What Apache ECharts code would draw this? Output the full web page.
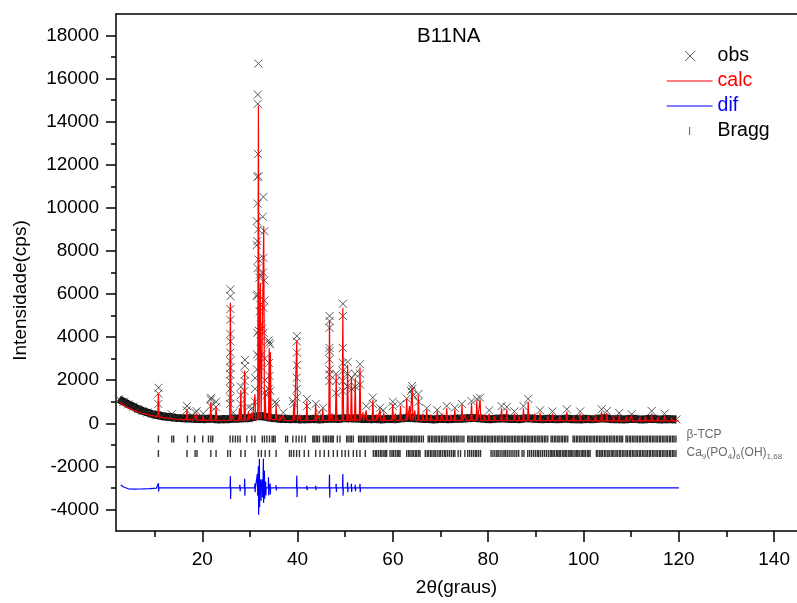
<!DOCTYPE html>
<html>
<head>
<meta charset="utf-8">
<script src="https://cdn.jsdelivr.net/npm/echarts@6/dist/echarts.min.js"></script>
<style>
  html, body { margin: 0; padding: 0; background: #fff; }
  #main { width: 797px; height: 603px; }
</style>
</head>
<body>
<div id="main"></div>
<script>
// axis ticks
const xTicks = [20, 40, 60, 80, 100, 120, 140];
const xMinorTicks = [10, 30, 50, 70, 90, 110, 130];
const yTicks = [-4000, -2000, 0, 2000, 4000, 6000, 8000, 10000, 12000, 14000, 16000, 18000];
const yMinorTicks = [-3000, -1000, 1000, 3000, 5000, 7000, 9000, 11000, 13000, 15000, 17000];

// observed background, one point per degree starting at 2.5
const obsBgStart = 2.5;
const obsBg = [
  1120, 1000, 880, 770, 660, 570, 500, 430, 380, 340,
  300, 280, 250, 240, 220, 230, 200, 210, 190, 220,
  200, 180, 200, 190, 220, 210, 240, 230, 270, 330,
  340, 290, 250, 230, 200, 210, 190, 210, 180, 200,
  190, 210, 180, 200, 210, 220, 200, 230, 240, 220,
  230, 200, 210, 190, 210, 180, 200, 210, 190, 220,
  240, 260, 230, 220, 200, 210, 180, 200, 210, 190,
  200, 220, 210, 230, 250, 240, 220, 200, 190, 210,
  220, 230, 200, 210, 190, 220, 240, 210, 200, 190,
  210, 200, 190, 200, 220, 190, 200, 180, 210, 190,
  200, 220, 230, 200, 190, 200, 180, 200, 210, 190,
  180, 200, 210, 190, 180, 200, 190, 180
];

// observed points on the peaks [2theta, counts]
const obsPeaks = [
  [10.78, 900], [10.8, 1380], [10.82, 1650], [13.6, 420], [16.75, 600], [16.8, 800],
  [18.5, 500], [18.8, 560], [20.2, 450], [21.75, 800], [21.8, 1100], [21.85, 1180],
  [22.85, 750], [22.9, 1000],
  [25.86, 900], [25.86, 1190], [25.87, 1590], [25.87, 1960], [25.88, 2270], [25.88, 2580],
  [25.89, 2890], [25.89, 3280], [25.9, 3800], [25.9, 4150], [25.91, 4800], [25.91, 5300],
  [25.92, 5900], [25.92, 6220], [26.5, 500],
  [28.05, 900], [28.1, 1300], [28.12, 1700],
  [28.88, 1500], [28.9, 1960], [28.92, 2270], [28.93, 2660], [28.95, 2940],
  [29.7, 750], [30.4, 700], [31.05, 1000], [31.08, 1600], [31.1, 2100],
  [31.44, 9385], [31.44, 8270], [31.44, 5900], [31.5, 3200], [31.5, 2500], [31.55, 4200],
  [31.57, 11430], [31.57, 8460], [31.57, 5980], [31.6, 7200], [31.62, 10200], [31.65, 15260],
  [31.65, 14830], [31.7, 12500], [31.75, 9000], [31.78, 16700], [31.78, 11470], [31.8, 7600],
  [31.85, 4300], [31.9, 3100], [31.99, 6760], [32.05, 5200], [32.14, 6910], [32.2, 5500],
  [32.25, 3800], [32.35, 4590], [32.4, 2600], [32.55, 3200], [32.6, 4400], [32.7, 9590],
  [32.75, 7000], [32.83, 10510], [32.83, 7680], [32.83, 5360], [32.9, 4200], [33.04, 8920],
  [33.04, 6630], [33.04, 5700], [33.1, 3000], [33.2, 2000], [33.35, 1500], [33.5, 1300],
  [33.88, 3850], [34.03, 3740], [34.24, 3660], [34.0, 2800], [34.1, 2200], [33.95, 1600],
  [34.3, 1500], [35.3, 1000], [35.5, 900], [37.0, 500], [39.0, 1030], [39.2, 900],
  [39.8, 1200], [39.82, 2115], [39.84, 3280], [39.85, 4050], [39.83, 3800], [39.86, 2700],
  [39.88, 1600], [41.95, 1130], [42.0, 800], [43.8, 900], [44.5, 500], [45.35, 720],
  [46.66, 1960], [46.67, 2270], [46.68, 2500], [46.69, 2970], [46.7, 3350], [46.7, 3500],
  [46.71, 4430], [46.72, 4750], [46.72, 4980],
  [48.05, 1400], [48.08, 2300], [48.1, 1960],
  [49.46, 1500], [49.47, 1960], [49.48, 2430], [49.49, 2810], [49.5, 3500], [49.51, 4980],
  [49.52, 5550],
  [50.48, 1700], [50.5, 2850], [50.52, 2300], [51.37, 2100], [51.4, 1600], [52.07, 2300],
  [52.1, 1700], [53.1, 2300], [53.11, 2740], [53.12, 1800], [54.4, 800], [55.78, 1200],
  [55.8, 900], [57.3, 720], [58.0, 600], [59.97, 1000], [60.0, 800], [61.6, 900],
  [62.9, 1150], [63.8, 1500], [64.05, 1730], [64.1, 1600], [64.3, 1300], [65.35, 1360],
  [65.4, 1000], [67.1, 700], [69.3, 620], [71.3, 800], [73.0, 720], [74.5, 900],
  [76.5, 1030], [77.6, 1130], [78.3, 1190], [80.2, 600], [82.8, 800], [83.9, 760],
  [85.5, 550], [87.4, 800], [88.4, 1130], [90.9, 600], [93.5, 550], [96.5, 650],
  [99.3, 550], [103.8, 650], [104.9, 570], [107.5, 480], [110.1, 420], [114.3, 570],
  [117.0, 450]
];

// calculated profile: background [2theta, counts] and peaks [2theta, top, base]
const calcBase = [
  [2.6, 990], [3, 900], [4, 780], [5, 670], [6, 570], [7, 490], [8, 430], [9, 380],
  [10, 330], [11, 290], [12, 250], [14, 200], [16, 170], [18, 150], [20, 140], [25, 130],
  [29.3, 150], [30.7, 190], [32.55, 220], [33.6, 190], [36, 140], [40.2, 130], [50, 140],
  [60.2, 140], [70, 130], [80, 130], [90, 120], [100, 120], [109.6, 115], [120, 110]
];
const calcPeaks = [
  [10.8, 1400, 300], [13.6, 300, 230], [16.8, 650, 170], [18.5, 350, 150], [18.8, 450, 150],
  [20.2, 330, 140], [21.8, 1000, 140], [22.9, 800, 135], [25.9, 5600, 130], [26.5, 350, 130],
  [27.8, 700, 140], [28.1, 1550, 140], [28.9, 2450, 145], [29.7, 550, 150], [30.4, 500, 170],
  [31.05, 1350, 190], [31.78, 14750, 200], [32.2, 6500, 210], [32.9, 9150, 210], [33.2, 1500, 200],
  [34.05, 3500, 180], [34.3, 3300, 180], [35.5, 850, 160], [36.3, 350, 150], [37.0, 380, 140],
  [39.2, 900, 130], [39.84, 3850, 130], [40.5, 400, 130], [41.95, 1050, 130], [43.8, 880, 130],
  [44.5, 350, 130], [45.3, 650, 135], [46.7, 4800, 135], [47.2, 450, 135], [48.1, 2250, 135],
  [49.5, 5350, 135], [50.5, 2700, 140], [51.3, 2150, 140], [52.1, 2100, 140], [53.1, 2600, 140],
  [53.7, 500, 140], [54.4, 600, 140], [55.8, 1100, 140], [56.6, 400, 140], [57.3, 650, 140],
  [58.1, 500, 140], [59.97, 900, 140], [60.5, 450, 140], [61.6, 800, 140], [62.9, 1150, 140],
  [63.5, 800, 140], [64.05, 1650, 140], [64.6, 600, 140], [65.35, 1300, 140], [66.3, 450, 140],
  [67.1, 650, 140], [68.0, 400, 140], [69.3, 570, 135], [70.3, 450, 135], [71.3, 700, 135],
  [72.2, 400, 135], [73.0, 650, 135], [74.5, 850, 135], [75.2, 400, 135], [76.5, 950, 135],
  [77.6, 1050, 130], [78.3, 1100, 130], [79.2, 400, 130], [80.2, 450, 130], [81.3, 350, 130],
  [82.8, 700, 130], [83.9, 650, 130], [85.5, 450, 130], [86.5, 350, 125], [87.4, 700, 125],
  [88.4, 1000, 125], [89.8, 450, 125], [90.9, 500, 125], [92.5, 350, 120], [93.5, 450, 120],
  [95.0, 350, 120], [96.5, 550, 120], [97.9, 350, 120], [99.3, 450, 120], [101.0, 350, 120],
  [102.5, 400, 115], [103.8, 550, 115], [104.9, 480, 115], [106.3, 350, 115], [107.5, 400, 115],
  [109.0, 300, 115], [110.1, 380, 115], [111.8, 300, 110], [113.0, 320, 110], [114.3, 450, 110],
  [115.6, 300, 110], [117.0, 350, 110], [118.5, 280, 110]
];

// difference curve: baseline [2theta, value] and spikes [2theta, high, low]
const difBaseLevel = -3000;
const difBase = [
  [2.9, -2870], [3.5, -2960], [4.5, -3040], [5.5, -3060], [7, -3050], [9, -3030],
  [10.4, -3010], [14, -3000], [120, -3000]
];
const difSpikes = [
  [10.8, -2780, -3170], [13.6, -2950, -3040], [16.8, -2920, -3080], [18.8, -2950, -3050],
  [21.8, -2920, -3080], [22.9, -2930, -3070], [25.9, -2460, -3510], [27.9, -2850, -3150],
  [28.9, -2580, -3360], [29.7, -2950, -3050], [30.4, -2940, -3060], [31.05, -2800, -3200],
  [31.57, -2350, -3350], [31.78, -2000, -4240], [31.99, -1650, -3900], [32.3, -2600, -3600],
  [32.63, -2600, -3450], [32.83, -1650, -3700], [33.04, -2200, -3500], [33.3, -2700, -3350],
  [33.9, -2500, -3350], [34.24, -2800, -3300], [35.5, -2880, -3120], [39.2, -2920, -3080],
  [39.84, -2430, -3430], [41.95, -2900, -3100], [43.8, -2900, -3100], [45.3, -2940, -3060],
  [46.7, -2380, -3460], [48.1, -2810, -3190], [49.5, -2350, -3360], [50.5, -2740, -3200],
  [51.3, -2810, -3190], [52.1, -2850, -3150], [53.1, -2810, -3200], [55.8, -2920, -3080],
  [57.3, -2950, -3050], [59.97, -2940, -3060], [61.6, -2950, -3050], [62.9, -2940, -3060],
  [64.05, -2920, -3080], [65.35, -2940, -3060], [67.1, -2960, -3040], [69.3, -2960, -3040],
  [71.3, -2950, -3050], [73.0, -2960, -3040], [74.5, -2950, -3050], [76.5, -2950, -3060],
  [77.6, -2940, -3060], [78.3, -2950, -3050], [80.2, -2970, -3030], [82.8, -2960, -3040],
  [83.9, -2960, -3040], [85.5, -2970, -3030], [87.4, -2960, -3040], [88.4, -2950, -3060],
  [90.9, -2970, -3030], [93.5, -2970, -3030], [96.5, -2960, -3040], [99.3, -2970, -3030],
  [103.8, -2960, -3040], [104.9, -2970, -3030], [107.5, -2970, -3030], [110.1, -2970, -3030],
  [114.3, -2960, -3040], [117.0, -2970, -3030], [119.8, -2950, -3000]
];

// Bragg reflection positions
const braggRowTCP = -730;
const braggRowHAp = -1400;
const braggTCP = [
  10.8, 13.6, 14.0, 16.9, 18.4, 20.1, 21.3, 21.8, 22.2, 25.85, 26.4, 26.95, 27.45, 27.95,
  29.35, 30.4, 31.05, 32.6, 33.05, 33.55, 34.1, 34.65, 34.95, 35.3, 37.5, 37.9, 39.0, 39.7,
  40.3, 40.9, 41.6, 43.2, 43.5, 43.9, 44.2, 44.6, 45.4, 45.8, 46.1, 46.5, 46.9, 47.2, 47.5,
  48.35, 48.9, 50.3, 50.6, 51.0, 51.3, 51.7, 52.8, 53.1, 53.4, 53.8, 54.1, 54.5, 54.8, 55.2,
  55.6, 55.9, 56.3, 56.6, 57.0, 57.4, 57.7, 58.0, 58.4, 58.7, 59.4, 59.7, 60.1, 60.4, 60.8,
  61.2, 61.5, 61.8, 62.2, 62.5, 62.9, 63.2, 63.6, 63.9, 64.2, 64.6, 64.9, 65.3, 65.6, 66.0,
  66.4, 67.4, 67.7, 68.1, 68.4, 68.8, 69.1, 69.5, 69.8, 70.2, 70.5, 70.9, 71.2, 71.6, 72.0,
  72.3, 72.7, 73.0, 73.4, 73.7, 74.1, 74.5, 74.9, 75.7, 76.0, 76.4, 76.7, 77.1, 77.4, 77.8,
  78.1, 78.5, 78.8, 79.2, 79.5, 79.9, 80.2, 80.6, 80.9, 81.3, 81.6, 82.0, 82.3, 82.7, 83.0,
  83.4, 83.7, 84.1, 84.4, 84.8, 85.1, 85.5, 85.8, 86.2, 86.5, 86.9, 87.2, 87.6, 87.9, 88.3,
  88.6, 89.0, 89.3, 89.7, 90.0, 90.4, 90.7, 91.1, 91.4, 91.8, 92.1, 92.5, 93.2, 93.5, 93.9,
  94.2, 94.6, 94.9, 95.3, 95.6, 96.0, 96.3, 96.7, 97.8, 98.1, 98.5, 98.8, 99.2, 99.5, 99.9,
  100.2, 100.6, 100.9, 101.3, 101.6, 102.0, 102.3, 102.7, 103.0, 103.4, 103.7, 104.1, 104.4,
  104.8, 105.1, 105.5, 105.8, 106.2, 106.5, 106.9, 107.2, 107.6, 107.9, 108.2, 108.9, 109.2,
  109.6, 109.9, 110.3, 110.6, 111.0, 111.3, 111.7, 112.0, 112.4, 112.7, 113.1, 113.4, 113.8,
  114.1, 114.5, 114.8, 115.2, 115.5, 115.9, 116.2, 116.6, 116.9, 117.3, 117.6, 118.0, 118.3,
  118.7, 119.0, 119.4
];
const braggHAp = [
  10.8, 16.8, 18.5, 18.9, 21.8, 22.9, 25.35, 25.9, 28.1, 29.0, 31.78, 32.4, 33.2, 34.1, 35.5,
  38.3, 38.7, 39.2, 39.8, 40.4, 41.4, 42.3, 43.8, 44.7, 45.6, 46.5, 47.5, 48.35, 49.3, 50.0,
  50.7, 51.7, 52.4, 53.1, 54.2, 55.9, 56.3, 56.6, 57.0, 57.4, 57.7, 58.1, 58.4, 58.7, 59.4,
  59.8, 60.1, 60.5, 60.9, 61.2, 61.5, 62.9, 63.3, 63.6, 64.0, 64.3, 64.7, 65.0, 65.4, 65.7,
  66.8, 67.2, 67.5, 67.9, 68.2, 68.6, 68.9, 69.3, 69.7, 70.0, 70.4, 70.8, 71.1, 71.5, 71.9,
  72.3, 72.7, 73.0, 73.7, 74.2, 75.1, 75.7, 76.1, 76.5, 76.9, 77.3, 77.6, 78.0, 78.4, 80.6,
  81.0, 81.4, 81.8, 82.1, 82.5, 82.9, 83.3, 83.6, 84.0, 84.4, 84.8, 85.2, 85.6, 86.0, 86.4,
  87.1, 87.5, 88.3, 88.7, 89.1, 89.5, 89.9, 90.3, 90.6, 91.0, 91.4, 91.8, 92.2, 92.6, 93.0,
  93.3, 93.6, 93.9, 94.3, 94.6, 94.9, 95.2, 95.6, 95.9, 96.2, 96.5, 96.9, 97.2, 97.5, 97.8,
  98.2, 98.5, 98.8, 99.1, 99.5, 99.8, 100.1, 100.4, 100.8, 101.1, 101.4, 102.7, 103.0, 103.4,
  103.7, 104.0, 104.4, 104.7, 105.1, 105.4, 105.8, 106.1, 106.4, 106.8, 107.1, 107.5, 107.8,
  108.2, 108.5, 108.9, 109.2, 109.6, 109.9, 110.3, 110.6, 111.0, 111.3, 111.7, 112.0, 112.4,
  112.7, 113.1, 113.4, 113.8, 114.1, 114.5, 114.8, 115.2, 115.5, 115.9, 116.2, 116.6, 116.9,
  117.3, 117.6, 118.0, 118.3, 118.7, 119.0, 119.4
];
const phaseLabelX = 121.2;
const phaseNames = ['β-TCP', 'Ca{s|9}(PO{s|4}){s|6}(OH){s|1,68}'];

const FONT = 'Liberation Sans, Arial, sans-serif';
const X_MARK = 'path://M0,0L10,10M10,0L0,10';

// build series data
const obsBgData = obsBg.map((v, i) => [obsBgStart + i, v]);
const obsData = obsBgData.concat(obsPeaks);

const calcData = calcBase.slice();
calcPeaks.forEach(p => {
  calcData.push([p[0] - 0.15, p[2]], [p[0], p[1]], [p[0] + 0.15, p[2]]);
});
calcData.sort((a, b) => a[0] - b[0]);

const difData = difBase.slice();
difSpikes.forEach(s => {
  difData.push([s[0] - 0.06, difBaseLevel], [s[0], s[1]], [s[0] + 0.05, s[2]], [s[0] + 0.1, difBaseLevel]);
});
difData.sort((a, b) => a[0] - b[0]);

const braggData = braggTCP.map(x => [x, braggRowTCP]).concat(braggHAp.map(x => [x, braggRowHAp]));

const chart = echarts.init(document.getElementById('main'));

const tickStyle = { color: '#000', width: 1.5 };

const option = {
  animation: false,
  backgroundColor: '#fff',
  title: {
    text: 'B11NA',
    left: 412,
    top: 21,
    textStyle: { fontFamily: FONT, fontSize: 20.5, fontWeight: 'normal', color: '#000' }
  },
  legend: {
    orient: 'vertical',
    left: 661,
    top: 41,
    itemWidth: 46,
    itemHeight: 12,
    itemGap: 5,
    selectedMode: false,
    textStyle: { fontFamily: FONT, fontSize: 19.5, color: '#000', lineHeight: 20 },
    data: [
      { name: 'obs', icon: 'path://M0,0M46,12M18.5,1L28.5,11M28.5,1L18.5,11',
        itemStyle: { color: 'rgba(0,0,0,0)', borderColor: '#333', borderWidth: 1 } },
      { name: 'calc', icon: 'path://M0,0M46,12M0,6L46,6', textStyle: { color: '#ff0000' },
        itemStyle: { color: 'rgba(0,0,0,0)', borderColor: '#ff0000', borderWidth: 1.2 } },
      { name: 'dif', icon: 'path://M0,0M46,12M0,6L46,6', textStyle: { color: '#0000ff' },
        itemStyle: { color: 'rgba(0,0,0,0)', borderColor: '#0000ff', borderWidth: 1.2 } },
      { name: 'Bragg', icon: 'path://M0,0M46,12M23,2L23,10',
        itemStyle: { color: 'rgba(0,0,0,0)', borderColor: '#333', borderWidth: 1 } }
    ]
  },
  grid: { left: 116, right: 0, top: 14, bottom: 72, containLabel: false },
  xAxis: [
    {
      type: 'value', min: 1.9, max: 144.8, position: 'bottom',
      name: '2θ(graus)', nameLocation: 'middle', nameGap: 47,
      nameTextStyle: { fontFamily: FONT, fontSize: 19, color: '#000' },
      axisLine: { onZero: false, lineStyle: { color: '#000', width: 1.5 } },
      axisTick: { customValues: xTicks, length: 11, lineStyle: tickStyle },
      axisLabel: { customValues: xTicks, margin: 19, fontFamily: FONT, fontSize: 19, color: '#000',
        formatter: v => String(v) },
      splitLine: { show: false }
    },
    {
      type: 'value', min: 1.9, max: 144.8, position: 'bottom',
      axisLine: { show: false, onZero: false },
      axisTick: { customValues: xMinorTicks, length: 6, lineStyle: tickStyle },
      axisLabel: { show: false },
      splitLine: { show: false }
    },
    {
      type: 'value', min: 1.9, max: 144.8, position: 'top',
      axisLine: { onZero: false, lineStyle: { color: '#000', width: 1.5 } },
      axisTick: { show: false },
      axisLabel: { show: false },
      splitLine: { show: false }
    }
  ],
  yAxis: [
    {
      type: 'value', min: -5000, max: 19000, interval: 1000, position: 'left',
      name: 'Intensidade(cps)', nameLocation: 'middle', nameGap: 86,
      nameTextStyle: { fontFamily: FONT, fontSize: 19, color: '#000', padding: [0, 36, 0, 0] },
      axisLine: { onZero: false, lineStyle: { color: '#000', width: 1.5 } },
      axisTick: { customValues: yTicks, length: 10, lineStyle: tickStyle },
      axisLabel: { customValues: yTicks, margin: 17, fontFamily: FONT, fontSize: 19, color: '#000',
        formatter: v => String(v) },
      splitLine: { show: false }
    },
    {
      type: 'value', min: -5000, max: 19000, interval: 1000, position: 'left',
      axisLine: { show: false, onZero: false },
      axisTick: { customValues: yMinorTicks, length: 5, lineStyle: tickStyle },
      axisLabel: { show: false },
      splitLine: { show: false }
    }
  ],
  series: [
    {
      name: 'obsBand', type: 'line', data: obsBgData, symbol: 'none', silent: true,
      lineStyle: { color: '#111', width: 8 }, z: 2
    },
    {
      name: 'obs', type: 'scatter', data: obsData, symbol: X_MARK, symbolSize: 8,
      itemStyle: { color: 'rgba(0,0,0,0)', borderColor: '#333', borderWidth: 1 }, z: 3
    },
    {
      name: 'calc', type: 'line', data: calcData, symbol: 'none',
      lineStyle: { color: '#ff0000', width: 1.2 }, itemStyle: { color: '#ff0000' }, z: 4
    },
    {
      name: 'dif', type: 'line', data: difData, symbol: 'none',
      lineStyle: { color: '#0000ff', width: 1.2 }, itemStyle: { color: '#0000ff' }, z: 4
    },
    {
      name: 'Bragg', type: 'scatter', data: braggData, symbol: 'rect', symbolSize: [1.4, 7],
      itemStyle: { color: '#000' }, z: 3
    },
    {
      name: 'phases', type: 'scatter', symbolSize: 0, silent: true,
      data: [
        { value: [phaseLabelX, braggRowTCP], label: { formatter: phaseNames[0], offset: [0, -4] } },
        { value: [phaseLabelX, braggRowHAp], label: { formatter: phaseNames[1], offset: [0, -1] } }
      ],
      label: {
        show: true, position: 'right', distance: 2,
        fontFamily: FONT, fontSize: 12, color: '#444', lineHeight: 16,
        rich: { s: { fontFamily: FONT, fontSize: 8, color: '#444', lineHeight: 8, verticalAlign: 'bottom' } }
      }
    }
  ]
};

chart.setOption(option);
</script>
</body>
</html>
